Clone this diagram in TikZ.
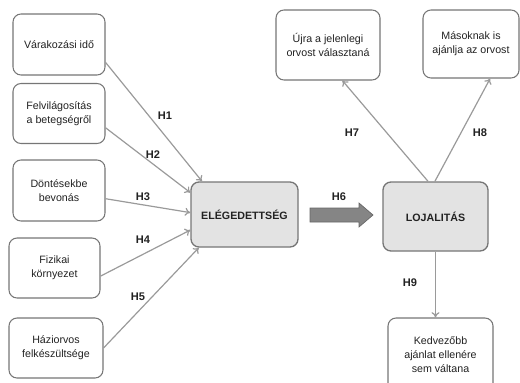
\documentclass[tikz,border=0pt]{standalone}
\usepackage{fontspec}
\setmainfont{Liberation Sans}
\usetikzlibrary{arrows.meta}
\definecolor{boxline}{HTML}{767676}
\definecolor{arrline}{HTML}{9A9A9A}
\definecolor{boxfill}{HTML}{E3E3E3}
\definecolor{txt}{HTML}{222222}
\definecolor{bigarrow}{HTML}{858585}
\begin{document}
\begin{tikzpicture}[x=0.75pt,y=-0.75pt,
  wbox/.style={draw=boxline,line width=0.8pt,rounded corners=6pt,fill=white,
     inner sep=0pt,align=center,text=txt,font=\fontsize{8}{10.5}\selectfont},
  gbox/.style={wbox,fill=boxfill,line width=1pt,font=\bfseries\fontsize{8}{10}\selectfont},
  conn/.style={draw=arrline,line width=0.9pt,-{To[length=4pt,width=6pt]}},
  hlab/.style={text=txt,font=\bfseries\fontsize{8.3}{10}\selectfont,inner sep=0pt}]
\useasboundingbox (0,0) rectangle (520,382);
% left boxes
\node[wbox,minimum width=69pt,minimum height=45.75pt] (b1) at (59,44.5) {Várakozási idő};
\node[wbox,minimum width=69pt,minimum height=45pt] (b2) at (59,113.5) {Felvilágosítás\\a betegségről};
\node[wbox,minimum width=69pt,minimum height=45.75pt] (b3) at (59,190.5) {Döntésekbe\\bevonás};
\node[wbox,minimum width=68.25pt,minimum height=45pt] (b4) at (54.5,268) {Fizikai\\környezet};
\node[wbox,minimum width=70.5pt,minimum height=45pt] (b5) at (56,348) {Háziorvos\\felkészültsége};
% central boxes
\node[gbox,minimum width=80.25pt,minimum height=48.75pt] (E) at (244.5,214.5) {ELÉGEDETTSÉG};
\node[gbox,minimum width=78.75pt,minimum height=51.75pt] (L) at (435.5,216.5) {LOJALITÁS};
% right boxes
\node[wbox,minimum width=78pt,minimum height=52.5pt] (U) at (328,45) {Újra a jelenlegi\\orvost választaná};
\node[wbox,minimum width=72pt,minimum height=51pt] (M) at (471,44) {Másoknak is\\ajánlja az orvost};
\node[wbox,minimum width=78.75pt,minimum height=55.5pt] (K) at (440.5,355) {Kedvezőbb\\ajánlat ellenére\\sem váltana};
% connectors
\draw[conn] (b1.-21) -- (E.142);
\draw[conn] (b2.-17) -- (E.158);
\draw[conn] (b3.-10) -- (E.178);
\draw[conn] (b4.-10) -- (E.-164);
\draw[conn] (b5.0) -- (E.-144);
\draw[conn] (L.102) -- (U.-68);
\draw[conn] (L.91) -- (M.-61);
\draw[conn] (L.south) -- (L.south |- K.north);
% labels
\node[hlab] (h1) at (165,116) {H1};
\node[hlab] (h2) at (153,155) {H2};
\node[hlab] (h3) at (143,197) {H3};
\node[hlab] (h4) at (143,240) {H4};
\node[hlab] (h5) at (138,297) {H5};
\node[hlab] (h6) at (339,197) {H6};
\node[hlab] (h7) at (352,133) {H7};
\node[hlab] (h8) at (480,133) {H8};
\node[hlab] (h9) at (410,283) {H9};
% block arrow H6
\draw[fill=bigarrow,draw=black!60,line width=0.5pt]
  (310,208) -- (359,208) -- (359,203) -- (373,215) -- (359,227) -- (359,222) -- (310,222) -- cycle;
\end{tikzpicture}
\end{document}
